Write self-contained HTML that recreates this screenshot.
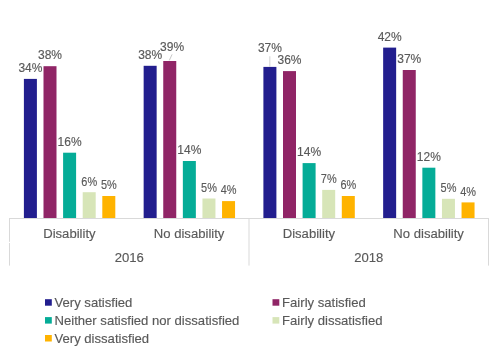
<!DOCTYPE html>
<html><head><meta charset="utf-8"><style>
html,body{margin:0;padding:0;background:#fff;width:500px;height:347px;overflow:hidden}
svg{display:block;will-change:transform}
text{font-family:"Liberation Sans",sans-serif;fill:#595959;stroke:#595959;stroke-width:0.15px}
</style></head><body>
<svg width="500" height="347" viewBox="0 0 500 347">
<rect x="23.90" y="78.90" width="13.0" height="139.60" fill="#221E8E"/>
<rect x="43.50" y="66.20" width="13.0" height="152.30" fill="#902566"/>
<rect x="63.10" y="152.70" width="13.0" height="65.80" fill="#05AC97"/>
<rect x="82.70" y="192.20" width="13.0" height="26.30" fill="#D7E5B8"/>
<rect x="102.30" y="196.00" width="13.0" height="22.50" fill="#FFB300"/>
<rect x="143.65" y="65.80" width="13.0" height="152.70" fill="#221E8E"/>
<rect x="163.25" y="61.00" width="13.0" height="157.50" fill="#902566"/>
<rect x="182.85" y="161.00" width="13.0" height="57.50" fill="#05AC97"/>
<rect x="202.45" y="198.50" width="13.0" height="20.00" fill="#D7E5B8"/>
<rect x="222.05" y="201.10" width="13.0" height="17.40" fill="#FFB300"/>
<rect x="263.40" y="66.90" width="13.0" height="151.60" fill="#221E8E"/>
<rect x="283.00" y="71.10" width="13.0" height="147.40" fill="#902566"/>
<rect x="302.60" y="163.10" width="13.0" height="55.40" fill="#05AC97"/>
<rect x="322.20" y="189.90" width="13.0" height="28.60" fill="#D7E5B8"/>
<rect x="341.80" y="196.00" width="13.0" height="22.50" fill="#FFB300"/>
<rect x="383.15" y="47.60" width="13.0" height="170.90" fill="#221E8E"/>
<rect x="402.75" y="70.00" width="13.0" height="148.50" fill="#902566"/>
<rect x="422.35" y="167.70" width="13.0" height="50.80" fill="#05AC97"/>
<rect x="441.95" y="198.80" width="13.0" height="19.70" fill="#D7E5B8"/>
<rect x="461.55" y="202.40" width="13.0" height="16.10" fill="#FFB300"/>
<text x="30.40" y="71.90" text-anchor="middle" font-size="12">34%</text>
<text x="50.00" y="58.90" text-anchor="middle" font-size="12">38%</text>
<text x="69.60" y="146.20" text-anchor="middle" font-size="12">16%</text>
<text x="89.20" y="185.50" text-anchor="middle" font-size="12" textLength="15.8" lengthAdjust="spacingAndGlyphs">6%</text>
<text x="108.80" y="189.20" text-anchor="middle" font-size="12" textLength="15.8" lengthAdjust="spacingAndGlyphs">5%</text>
<text x="150.15" y="58.70" text-anchor="middle" font-size="12">38%</text>
<text x="172.05" y="50.70" text-anchor="middle" font-size="12">39%</text>
<text x="189.35" y="153.60" text-anchor="middle" font-size="12">14%</text>
<text x="208.95" y="191.80" text-anchor="middle" font-size="12" textLength="15.8" lengthAdjust="spacingAndGlyphs">5%</text>
<text x="228.55" y="193.60" text-anchor="middle" font-size="12" textLength="15.8" lengthAdjust="spacingAndGlyphs">4%</text>
<text x="269.90" y="51.90" text-anchor="middle" font-size="12">37%</text>
<text x="289.50" y="64.10" text-anchor="middle" font-size="12">36%</text>
<text x="309.10" y="156.20" text-anchor="middle" font-size="12">14%</text>
<text x="328.70" y="182.60" text-anchor="middle" font-size="12" textLength="15.8" lengthAdjust="spacingAndGlyphs">7%</text>
<text x="348.30" y="189.00" text-anchor="middle" font-size="12" textLength="15.8" lengthAdjust="spacingAndGlyphs">6%</text>
<text x="389.65" y="40.50" text-anchor="middle" font-size="12">42%</text>
<text x="409.25" y="62.90" text-anchor="middle" font-size="12">37%</text>
<text x="428.85" y="161.00" text-anchor="middle" font-size="12">12%</text>
<text x="448.45" y="192.30" text-anchor="middle" font-size="12" textLength="15.8" lengthAdjust="spacingAndGlyphs">5%</text>
<text x="468.05" y="195.50" text-anchor="middle" font-size="12" textLength="15.8" lengthAdjust="spacingAndGlyphs">4%</text>
<line x1="169.3" y1="60.4" x2="172.1" y2="54.4" stroke="#BFBFBF" stroke-width="0.9"/>
<line x1="269.8" y1="56.2" x2="269.8" y2="66.9" stroke="#D9D9D9" stroke-width="1.2"/>
<line x1="9" y1="218.5" x2="489" y2="218.5" stroke="#D9D9D9" stroke-width="1"/>
<line x1="9.5" y1="218.5" x2="9.5" y2="241.8" stroke="#D9D9D9" stroke-width="1"/>
<line x1="9.5" y1="243" x2="9.5" y2="265.6" stroke="#D9D9D9" stroke-width="1"/>
<line x1="249.0" y1="218.5" x2="249.0" y2="265.6" stroke="#D9D9D9" stroke-width="1"/>
<line x1="488.5" y1="218.5" x2="488.5" y2="265.6" stroke="#D9D9D9" stroke-width="1"/>
<text x="69.38" y="238.35" text-anchor="middle" font-size="13.7" textLength="52.41" lengthAdjust="spacingAndGlyphs">Disability</text>
<text x="189.12" y="238.35" text-anchor="middle" font-size="13.7" textLength="70.62" lengthAdjust="spacingAndGlyphs">No disability</text>
<text x="308.88" y="238.35" text-anchor="middle" font-size="13.7" textLength="52.41" lengthAdjust="spacingAndGlyphs">Disability</text>
<text x="428.62" y="238.35" text-anchor="middle" font-size="13.7" textLength="70.62" lengthAdjust="spacingAndGlyphs">No disability</text>
<text x="129.25" y="261.9" text-anchor="middle" font-size="13.7" textLength="29.14" lengthAdjust="spacingAndGlyphs">2016</text>
<text x="368.75" y="261.9" text-anchor="middle" font-size="13.7" textLength="29.14" lengthAdjust="spacingAndGlyphs">2018</text>
<rect x="45.0" y="299.2" width="6.8" height="6.5" fill="#221E8E"/>
<text x="54.5" y="306.70" font-size="13.1">Very satisfied</text>
<rect x="272.5" y="299.2" width="6.8" height="6.5" fill="#902566"/>
<text x="282.1" y="306.70" font-size="13.1">Fairly satisfied</text>
<rect x="45.0" y="317.1" width="6.8" height="6.5" fill="#05AC97"/>
<text x="54.5" y="324.60" font-size="13.1">Neither satisfied nor dissatisfied</text>
<rect x="272.5" y="317.1" width="6.8" height="6.5" fill="#D7E5B8"/>
<text x="282.1" y="324.60" font-size="13.1">Fairly dissatisfied</text>
<rect x="45.0" y="335.0" width="6.8" height="6.5" fill="#FFB300"/>
<text x="54.5" y="342.50" font-size="13.1">Very dissatisfied</text>
</svg>
</body></html>
